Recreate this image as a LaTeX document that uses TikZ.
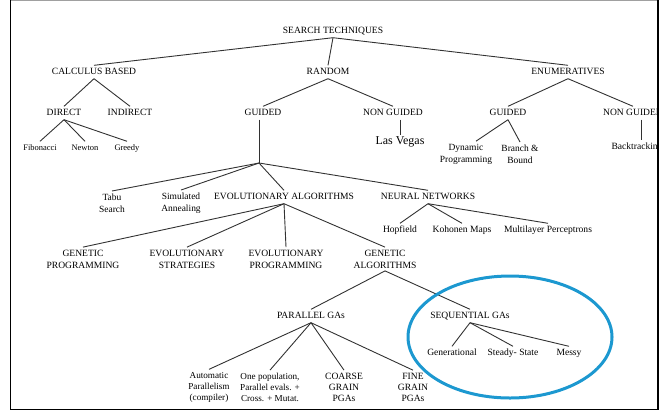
\documentclass[tikz,border=0pt]{standalone}
\usepackage{fontspec}
\setmainfont{Liberation Serif}
\definecolor{ln}{RGB}{50,50,50}
\definecolor{ring}{RGB}{28,152,208}
\definecolor{topedge}{RGB}{160,160,160}
\begin{document}
\begin{tikzpicture}[x=1bp,y=-1bp,
  lbl/.style={inner xsep=1bp, inner ysep=2.5bp, font=\fontsize{9.6}{12}\selectfont, text height=6.5bp, text depth=1.5bp},
  sm/.style={lbl, font=\fontsize{9.6}{11}\selectfont},
  tiny/.style={lbl, font=\fontsize{8.5}{11}\selectfont},
  ml/.style={inner xsep=1bp, inner ysep=2.5bp, font=\fontsize{9.5}{12}\selectfont, align=center},
  mlc/.style={ml, font=\fontsize{9.6}{12}\selectfont},
  ml3/.style={ml, font=\fontsize{9.2}{11}\selectfont},
  ml3c/.style={ml, font=\fontsize{9.6}{11}\selectfont},
  conn/.style={draw=ln, line width=0.9bp}]
\useasboundingbox (0,0) rectangle (670,412);
\begin{scope}
\clip (10.5,0) rectangle (658,409);
% level 0-1
\node[lbl] (st) at (333,31) {SEARCH TECHNIQUES};
\node[lbl] (cb) at (94,72) {CALCULUS BASED};
\node[lbl] (rd) at (328,72) {RANDOM};
\node[lbl] (en) at (568,72) {ENUMERATIVES};
% level 2
\node[lbl] (di) at (64,113) {DIRECT};
\node[lbl] (ind) at (130,113) {INDIRECT};
\node[lbl] (gr) at (263,113) {GUIDED};
\node[lbl] (ngr) at (393,113) {NON GUIDED};
\node[lbl] (ge) at (508,113) {GUIDED};
\node[lbl] (nge) at (633,113) {NON GUIDED};
% level 3
\node[tiny] (fib) at (40,148) {Fibonacci};
\node[tiny] (new) at (85,148) {Newton};
\node[tiny] (gre) at (127,148) {Greedy};
\node[inner sep=2bp, font=\fontsize{12}{14}\selectfont] (lv) at (400,142) {Las Vegas};
\node[ml] (dp) at (466,154) {Dynamic\\Programming};
\node[ml] (bb) at (520,154) {Branch \&\\Bound};
\node[sm] (bt) at (637,147) {Backtracking};
\coordinate (j) at (259,163);
% level 4
\node[ml] (ts) at (112,203) {Tabu\\Search};
\node[ml] (sa) at (181,203) {Simulated\\Annealing};
\node[lbl] (ea) at (284,197) {EVOLUTIONARY ALGORITHMS};
\node[lbl] (nn) at (428,197) {NEURAL NETWORKS};
\node[sm] (hop) at (400,230) {Hopfield};
\node[sm] (koh) at (462,230) {Kohonen Maps};
\node[sm] (mlp) at (548,230) {Multilayer Perceptrons};
% level 5
\node[mlc] (gp) at (83,259) {GENETIC\\PROGRAMMING};
\node[mlc] (es) at (187,259) {EVOLUTIONARY\\STRATEGIES};
\node[mlc] (ep) at (286,259) {EVOLUTIONARY\\PROGRAMMING};
\node[mlc] (ga) at (385,259) {GENETIC\\ALGORITHMS};
% level 6
\node[lbl] (pg) at (311,316) {PARALLEL GAs};
\node[lbl] (sg) at (470,316) {SEQUENTIAL GAs};
\node[ml3] (ap) at (209,387) {Automatic\\Parallelism\\(compiler)};
\node[ml3] (op) at (270,387) {One population,\\Parallel evals. +\\Cross. + Mutat.};
\node[ml3c] (cg) at (344,387) {COARSE\\GRAIN\\PGAs};
\node[ml3c] (fg) at (413,387) {FINE\\GRAIN\\PGAs};
\node[sm] (gen) at (452,353) {Generational};
\node[sm] (ss) at (513,353) {Steady- State};
\node[sm] (me) at (569,353) {Messy};
% connectors
\draw[conn] (st.south) -- (cb.north);
\draw[conn] (st.south) -- (rd.north);
\draw[conn] (st.south) -- (en.north);
\draw[conn] (cb.south) -- (di.north);
\draw[conn] (cb.south) -- (ind.north);
\draw[conn] (rd.south) -- (gr.north);
\draw[conn] (rd.south) -- (ngr.north);
\draw[conn] (en.south) -- (ge.north);
\draw[conn] (en.south) -- (nge.north);
\draw[conn] (di.south) -- (fib.north);
\draw[conn] (di.south) -- (new.north);
\draw[conn] (di.south) -- (gre.north);
\draw[conn] (lv.north |- ngr.south) -- (lv.north);
\draw[conn] (ge.south) -- ([xshift=10bp]dp.north);
\draw[conn] (ge.south) -- (bb.north);
\draw[conn] ([xshift=4bp]bt.north |- nge.south) -- ([xshift=4bp]bt.north);
\draw[conn] (j |- gr.south) -- (j);
\draw[conn] (j) -- (ts.north);
\draw[conn] (j) -- (sa.north);
\draw[conn] (j) -- (ea.north);
\draw[conn] (j) -- (nn.north);
\draw[conn] (nn.south) -- (hop.north);
\draw[conn] (nn.south) -- (koh.north);
\draw[conn] (nn.south) -- (mlp.north);
\draw[conn] (ea.south) -- (gp.north);
\draw[conn] (ea.south) -- (es.north);
\draw[conn] (ea.south) -- (ep.north);
\draw[conn] (ea.south) -- (ga.north);
\draw[conn] (ga.south) -- (pg.north);
\draw[conn] (ga.south) -- (sg.north);
\draw[conn] (pg.south) -- (ap.north);
\draw[conn] (pg.south) -- (op.north);
\draw[conn] (pg.south) -- (cg.north);
\draw[conn] (pg.south) -- (fg.north);
\draw[conn] (sg.south) -- (gen.north);
\draw[conn] (sg.south) -- (ss.north);
\draw[conn] (sg.south) -- (me.north);
\end{scope}
% highlight ring
\draw[ring, line width=3bp] (510,337) ellipse [x radius=102, y radius=61];
% frame
\draw[topedge, line width=1bp] (10,0.5) -- (658,0.5);
\draw[black, line width=1.2bp] (10.5,0) -- (10.5,409.5) -- (658,409.5) -- (658,0);
\end{tikzpicture}
\end{document}
